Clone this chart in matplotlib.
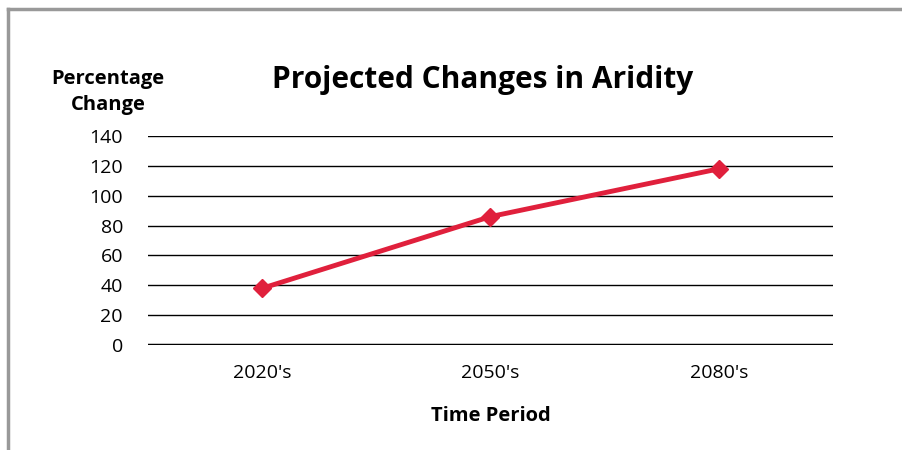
import matplotlib
matplotlib.use("Agg")
import matplotlib.pyplot as plt
from matplotlib.lines import Line2D

# Chart data
periods = ["2020's", "2050's", "2080's"]
pct_change = [38, 86, 118]
y_ticks = [0, 20, 40, 60, 80, 100, 120, 140]

plt.rcParams['font.family'] = ['Open Sans', 'DejaVu Sans']

fig = plt.figure(figsize=(9.02, 4.5), dpi=100)
ax = fig.add_axes([0.164, 0.2333, 0.7595, 0.4645])

# Outer gray frame (top and left only)
fig.add_artist(Line2D([8 / 902, 1], [1 - 9 / 450, 1 - 9 / 450], color='#999999', lw=2.5,
                      transform=fig.transFigure))
fig.add_artist(Line2D([8 / 902, 8 / 902], [0, 1 - 9 / 450], color='#999999', lw=2.5,
                      transform=fig.transFigure))

x = list(range(len(periods)))

# Gridlines
for t in y_ticks[1:]:
    ax.axhline(t, color='black', lw=1.0, zorder=1)
ax.axhline(0, color='black', lw=2.5, zorder=1)

ax.plot(x, pct_change, color='#e0203c', lw=3.5, marker='D', markersize=9,
        zorder=3, clip_on=False)

ax.set_xlim(-0.5, 2.5)
ax.set_ylim(0, 140)
ax.set_yticks(y_ticks)
ax.set_xticks(x)
ax.set_xticklabels(periods)
ax.tick_params(axis='both', length=0, labelsize=14)
ax.tick_params(axis='y', pad=18)
ax.tick_params(axis='x', pad=14)
for s in ax.spines.values():
    s.set_visible(False)

ax.set_xlabel('Time Period', fontsize=14.5, fontweight='bold', labelpad=17)

fig.text(108 / 902, 1 - 92 / 450, 'Percentage\nChange', ha='center', va='center',
         fontsize=14.5, fontweight='bold', linespacing=1.35)
fig.text(483 / 902, 1 - 80 / 450, 'Projected Changes in Aridity', ha='center',
         va='center', fontsize=21.5, fontweight='bold')

fig.savefig('out.png', dpi=100)
